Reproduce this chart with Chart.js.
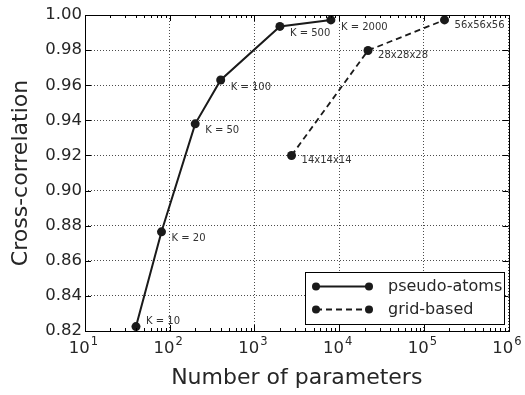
<!DOCTYPE html>
<html>
<head>
<meta charset="utf-8">
<script src="https://cdn.jsdelivr.net/npm/chart.js@4/dist/chart.umd.min.js"></script>
<style>
  html, body { margin: 0; padding: 0; background: #fff; }
  canvas { display: block; }
</style>
</head>
<body>
<canvas id="chart" width="525" height="395"></canvas>
<script>
// pseudo-atoms series (K = number of pseudo-atoms)
const atom_params = [40, 80, 200, 400, 2000, 8000];
const atom_corr = [0.8225, 0.8765, 0.938, 0.963, 0.9935, 0.9972];
const atom_labels = ['K = 10', 'K = 20', 'K = 50', 'K = 100', 'K = 500', 'K = 2000'];

// grid-based series
const grid_params = [2744, 21952, 175616];
const grid_corr = [0.920, 0.9798, 0.9972];
const grid_labels = ['14x14x14', '28x28x28', '56x56x56'];

const x_ticks = [10, 100, 1000, 10000, 100000, 1000000];
const x_tick_exps = ['1', '2', '3', '4', '5', '6'];
const series_names = ['pseudo-atoms', 'grid-based'];

const FONT = 'DejaVu Sans';
const INK = '#262626';

const to_points = (xs, ys) => xs.map((x, i) => ({ x: x, y: ys[i] }));

// point annotations, x tick labels (10^n), inward ticks, frame and legend
const extras = {
  id: 'extras',
  afterDatasetsDraw(chart) {
    const ctx = chart.ctx;
    const area = chart.chartArea;
    const xs = chart.scales.x;
    const ys = chart.scales.y;

    ctx.save();
    ctx.font = '10px ' + FONT;
    ctx.fillStyle = '#333';
    ctx.textAlign = 'left';
    ctx.textBaseline = 'middle';
    const all_labels = [atom_labels, grid_labels];
    chart.data.datasets.forEach((ds, d) => {
      ds.data.forEach((p, i) => {
        const px = xs.getPixelForValue(p.x);
        const py = ys.getPixelForValue(p.y);
        const dy = (d === 0 && i === 0) ? -5 : (d === 0 ? 7 : 5);
        ctx.fillText(all_labels[d][i], px + 10, py + dy);
      });
    });

    // x tick labels with exponent
    ctx.fillStyle = INK;
    ctx.textBaseline = 'alphabetic';
    x_ticks.forEach((v, i) => {
      const px = xs.getPixelForValue(v);
      ctx.font = '16.5px ' + FONT;
      const wb = ctx.measureText('10').width;
      ctx.font = '11.5px ' + FONT;
      const we = ctx.measureText(x_tick_exps[i]).width;
      const x0 = px - (wb + we) / 2 - 2;
      ctx.font = '16.5px ' + FONT;
      ctx.fillText('10', x0, area.bottom + 22);
      ctx.font = '11.5px ' + FONT;
      ctx.fillText(x_tick_exps[i], x0 + wb + 1, area.bottom + 14);
    });

    // inward ticks
    ctx.strokeStyle = '#000';
    ctx.lineWidth = 1;
    ctx.beginPath();
    for (let e = 1; e < 6; e++) {
      for (let m = 1; m < 10; m++) {
        const v = m * Math.pow(10, e);
        const px = Math.round(xs.getPixelForValue(v)) + 0.5;
        const len = m === 1 ? 6 : 3;
        ctx.moveTo(px, area.bottom); ctx.lineTo(px, area.bottom - len);
        ctx.moveTo(px, area.top); ctx.lineTo(px, area.top + len);
      }
    }
    ys.ticks.forEach(t => {
      const py = Math.round(ys.getPixelForValue(t.value)) + 0.5;
      ctx.moveTo(area.left, py); ctx.lineTo(area.left + 6, py);
      ctx.moveTo(area.right, py); ctx.lineTo(area.right - 6, py);
    });
    ctx.stroke();

    // frame
    ctx.strokeRect(Math.round(area.left) + 0.5, Math.round(area.top) + 0.5,
      Math.round(area.right - area.left), Math.round(area.bottom - area.top));

    // legend
    const lx = 305.5, ly = 272.5, lw = 199, lh = 52;
    ctx.fillStyle = '#fff';
    ctx.fillRect(lx, ly, lw, lh);
    ctx.strokeRect(lx, ly, lw, lh);
    ctx.font = '16px ' + FONT;
    ctx.textBaseline = 'middle';
    chart.data.datasets.forEach((ds, d) => {
      const yy = ly + 14 + d * 23;
      ctx.strokeStyle = ds.borderColor;
      ctx.lineWidth = ds.borderWidth;
      ctx.setLineDash(ds.borderDash || []);
      ctx.beginPath();
      ctx.moveTo(316, yy); ctx.lineTo(369, yy);
      ctx.stroke();
      ctx.setLineDash([]);
      ctx.fillStyle = ds.pointBackgroundColor;
      [316, 369].forEach(cx => {
        ctx.beginPath();
        ctx.arc(cx, yy, 4, 0, Math.PI * 2);
        ctx.fill();
      });
      ctx.fillStyle = INK;
      ctx.fillText(series_names[d], 388, yy);
    });
    ctx.restore();
  }
};

const ctx = document.getElementById('chart').getContext('2d');
const chart = new Chart(ctx, {
  type: 'line',
  data: {
    datasets: [
      {
        label: series_names[0],
        data: to_points(atom_params, atom_corr),
        borderColor: '#1a1a1a',
        borderWidth: 2,
        pointBackgroundColor: '#1a1a1a',
        pointBorderWidth: 0,
        pointRadius: 4.5,
        tension: 0,
      },
      {
        label: series_names[1],
        data: to_points(grid_params, grid_corr),
        borderColor: '#1a1a1a',
        borderWidth: 1.8,
        borderDash: [6, 4],
        pointBackgroundColor: '#1a1a1a',
        pointBorderWidth: 0,
        pointRadius: 4.5,
        tension: 0,
      },
    ]
  },
  plugins: [extras],
  options: {
    responsive: false,
    animation: false,
    clip: false,
    layout: { padding: { left: 0, top: 15, right: 13, bottom: 0 } },
    plugins: {
      legend: { display: false },
      tooltip: { enabled: false },
    },
    scales: {
      x: {
        type: 'logarithmic',
        min: 10,
        max: 1000000,
        afterBuildTicks: (scale) => { scale.ticks = x_ticks.map(v => ({ value: v })); },
        afterFit: (scale) => { scale.height = 64; },
        border: { display: false, dash: [1, 2] },
        grid: { color: 'rgba(0,0,0,0.7)', drawTicks: false, lineWidth: 1 },
        ticks: {
          autoSkip: false,
          maxRotation: 0,
          padding: 6,
          color: 'rgba(0,0,0,0)',
          font: { family: FONT, size: 16.5 },
          callback: () => '10',
        },
        title: {
          display: true,
          text: 'Number of parameters',
          color: INK,
          font: { family: FONT, size: 22 },
          padding: { top: 0, bottom: 4 },
        },
      },
      y: {
        min: 0.82,
        max: 1.0,
        afterFit: (scale) => { scale.width = 85; },
        border: { display: false, dash: [1, 2] },
        grid: { color: 'rgba(0,0,0,0.7)', drawTicks: false, lineWidth: 1 },
        ticks: {
          stepSize: 0.02,
          padding: 3,
          color: INK,
          font: { family: FONT, size: 16.5 },
          callback: (v) => v.toFixed(2),
        },
        title: {
          display: true,
          text: 'Cross-correlation',
          color: INK,
          font: { family: FONT, size: 22 },
          padding: { top: 8, bottom: 0 },
        },
      }
    }
  }
});
</script>
</body>
</html>
